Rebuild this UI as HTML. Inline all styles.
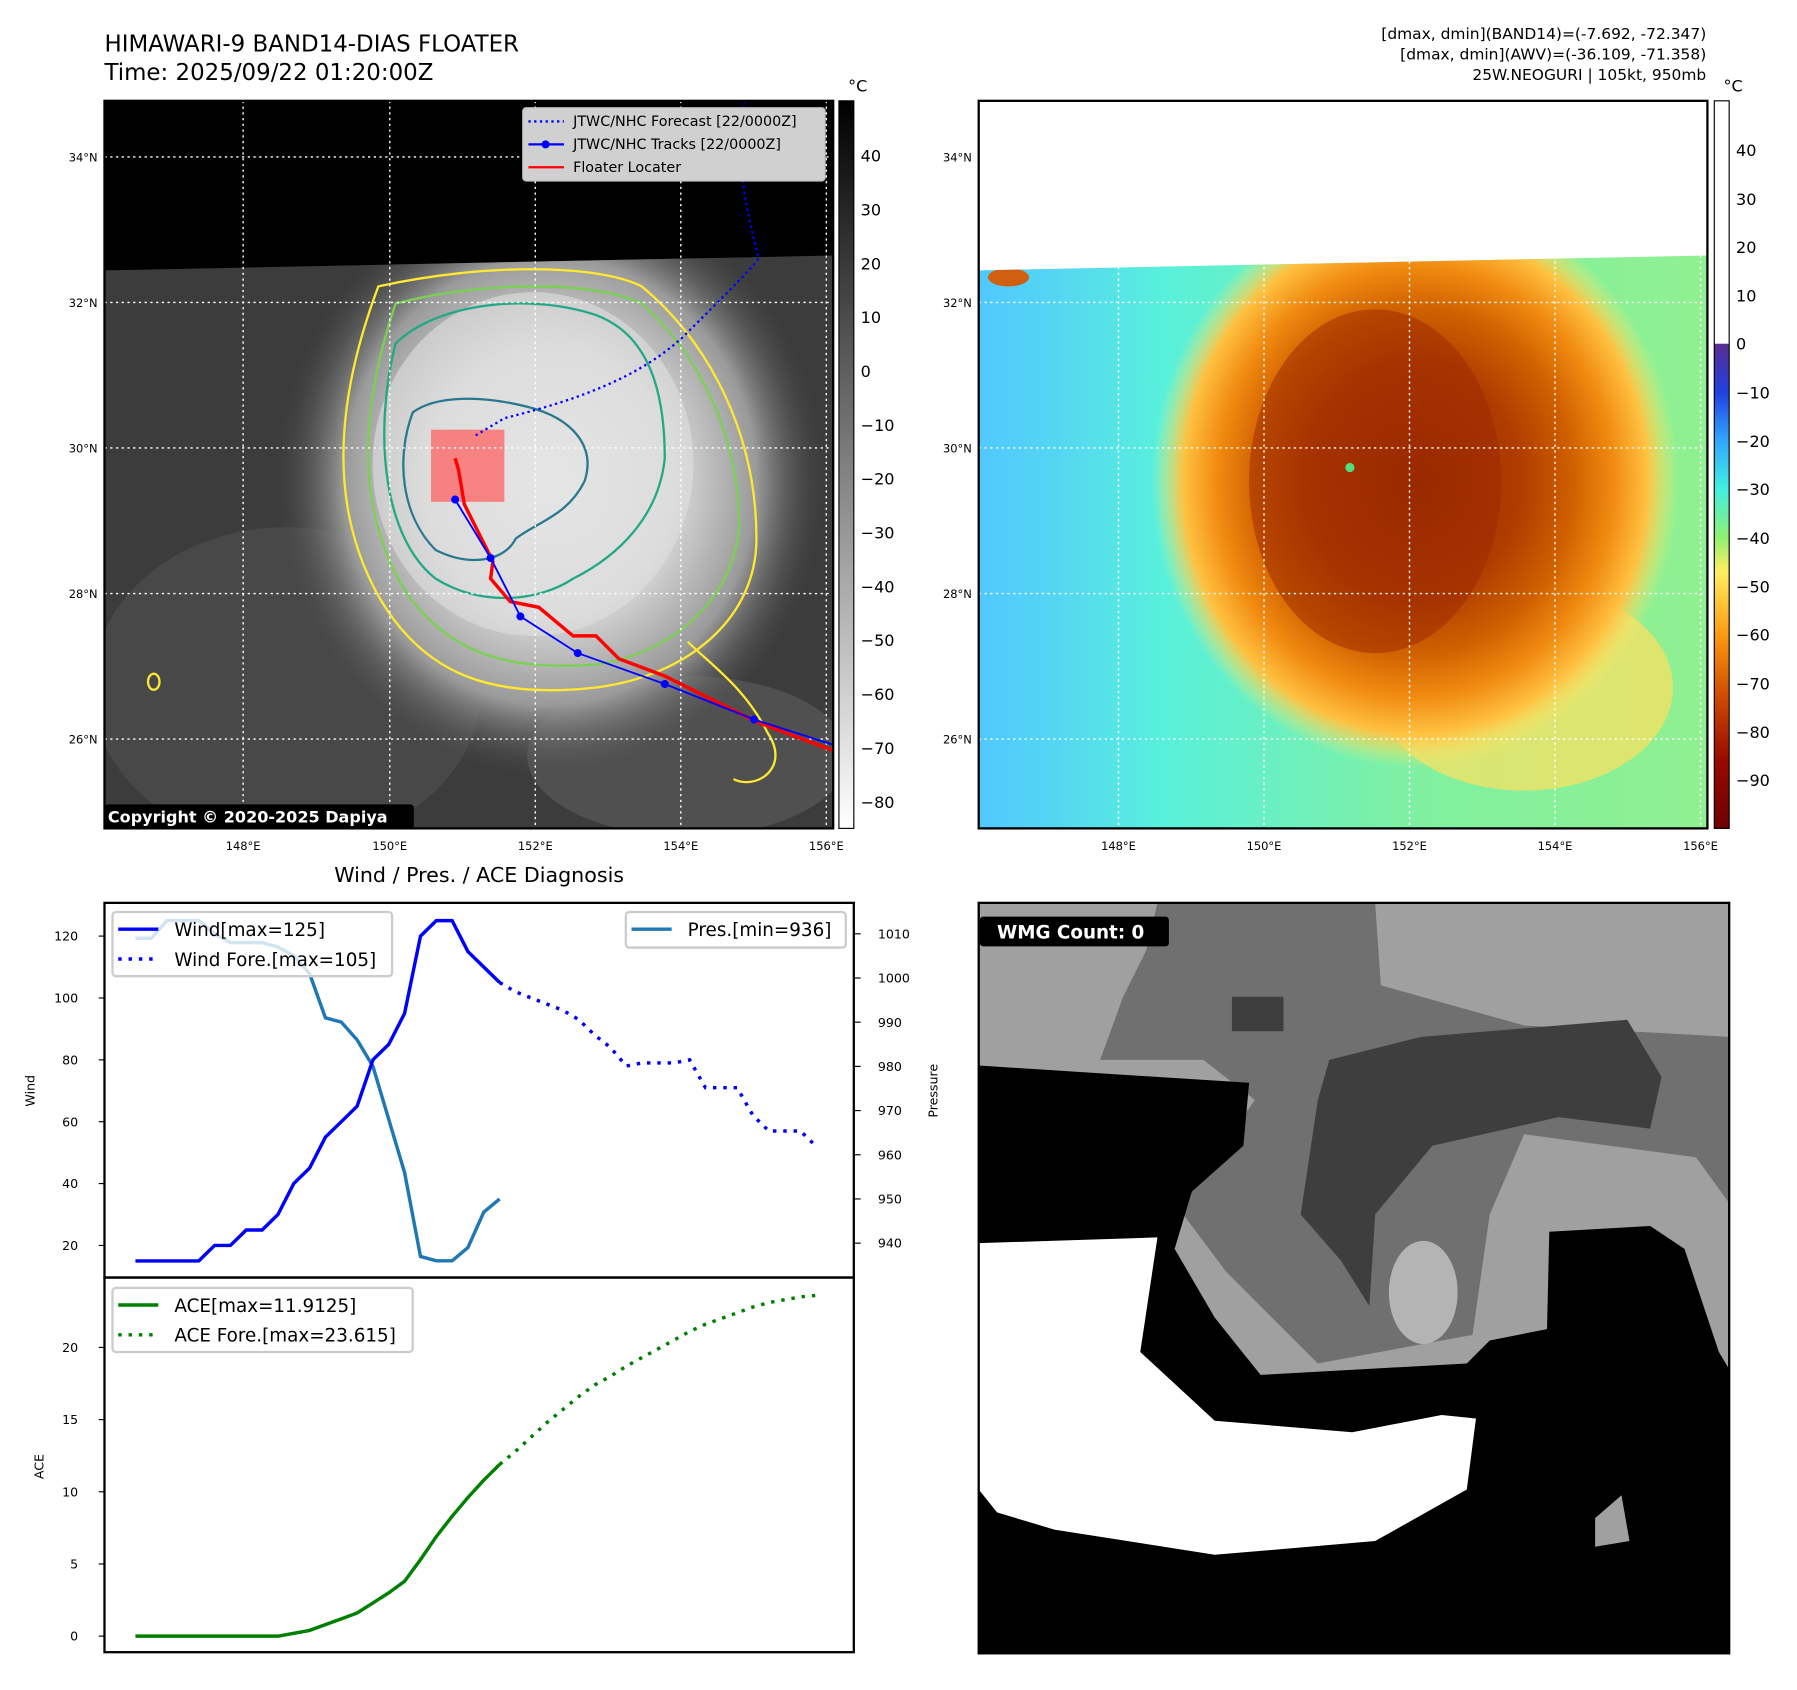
<!DOCTYPE html>
<html><head><meta charset="utf-8"><style>
html,body{margin:0;padding:0;background:#fff}
svg{display:block}
text{font-family:"DejaVu Sans","Liberation Sans",sans-serif}
</style></head><body>
<svg id="root" width="1797" height="1690" viewBox="0 0 1568 1475" xmlns="http://www.w3.org/2000/svg">
<defs>
<radialGradient id="cloud" cx="0.5" cy="0.5" r="0.5">
<stop offset="0" stop-color="#eeeeee"/><stop offset="0.45" stop-color="#d8d8d8"/><stop offset="0.75" stop-color="#9a9a9a"/><stop offset="1" stop-color="#4a4a4a" stop-opacity="0"/>
</radialGradient>
<radialGradient id="storm" cx="0.5" cy="0.5" r="0.5">
<stop offset="0" stop-color="#9a2a00"/><stop offset="0.4" stop-color="#b03c00"/><stop offset="0.6" stop-color="#d06000"/><stop offset="0.75" stop-color="#f08a10"/><stop offset="0.88" stop-color="#ffc040"/><stop offset="1" stop-color="#ffee70" stop-opacity="0"/>
</radialGradient>
<linearGradient id="seaGrad" x1="0" x2="1" y1="0" y2="0">
<stop offset="0" stop-color="#50c8ff"/><stop offset="0.12" stop-color="#55d8f0"/><stop offset="0.25" stop-color="#58f0dc"/><stop offset="0.6" stop-color="#80f0a0"/><stop offset="1" stop-color="#90f090"/>
</linearGradient>
<linearGradient id="grayBar" x1="0" x2="0" y1="0" y2="1">
<stop offset="0" stop-color="#000"/><stop offset="1" stop-color="#fff"/>
</linearGradient>
<linearGradient id="colBar" x1="0" x2="0" y1="0" y2="1">
<stop offset="0" stop-color="#5a2d91"/><stop offset="0.1" stop-color="#2040e0"/><stop offset="0.2" stop-color="#30a8ff"/><stop offset="0.3" stop-color="#40f0e0"/><stop offset="0.4" stop-color="#90f070"/><stop offset="0.47" stop-color="#ffef60"/><stop offset="0.6" stop-color="#ff9a10"/><stop offset="0.72" stop-color="#d05000"/><stop offset="0.86" stop-color="#980a00"/><stop offset="1" stop-color="#700000"/>
</linearGradient>
<clipPath id="clipL"><rect x="91" y="88" width="636" height="635"/></clipPath>
<clipPath id="clipLd"><polygon points="91,236 727,223 727,723 91,723"/></clipPath>
<clipPath id="clipR"><rect x="854" y="88" width="636" height="635"/></clipPath>
<clipPath id="clipRd"><polygon points="854,236 1490,223 1490,723 854,723"/></clipPath>
<clipPath id="clipB"><rect x="854" y="788" width="655" height="655"/></clipPath>
</defs>

<text x="91" y="45" font-size="20">HIMAWARI-9 BAND14-DIAS FLOATER</text>
<text x="91" y="70" font-size="20">Time: 2025/09/22 01:20:00Z</text>
<text x="1489" y="34" font-size="13.5" text-anchor="end">[dmax, dmin](BAND14)=(-7.692, -72.347)</text>
<text x="1489" y="52" font-size="13.5" text-anchor="end">[dmax, dmin](AWV)=(-36.109, -71.358)</text>
<text x="1489" y="70" font-size="13.5" text-anchor="end">25W.NEOGURI | 105kt, 950mb</text>

<!-- LEFT MAP -->
<g clip-path="url(#clipL)">
<rect x="91" y="88" width="636" height="635" fill="#000"/>
<g clip-path="url(#clipLd)">
<rect x="91" y="88" width="636" height="635" fill="#3c3c3c"/>
<ellipse cx="250" cy="600" rx="170" ry="140" fill="#505050" opacity="0.6"/>
<ellipse cx="600" cy="660" rx="140" ry="70" fill="#585858" opacity="0.7"/>
<ellipse cx="480" cy="420" rx="240" ry="260" fill="url(#cloud)"/>
<ellipse cx="465" cy="405" rx="140" ry="150" fill="#e0e0e0" opacity="0.6"/>
</g>
<g fill="none" stroke-width="2">
<path d="M330,250 C300,330 280,430 330,520 C370,590 430,610 520,600 C600,590 660,540 660,470 C660,380 620,300 560,250 C520,230 420,230 330,250 Z" stroke="#ffe930"/>
<path d="M345,265 C320,340 305,430 350,510 C390,575 450,585 520,580 C590,570 640,520 645,460 C645,380 610,310 560,265 C520,245 420,245 345,265 Z" stroke="#7ad151"/>
<path d="M345,300 C325,380 335,470 380,505 C420,530 470,525 500,505 C540,485 575,450 580,400 C580,330 560,290 520,275 C460,255 380,265 345,300 Z" stroke="#22a884"/>
<path d="M360,360 C345,400 350,450 380,480 C410,495 440,490 450,470 C470,455 495,450 510,420 C520,390 500,365 460,355 C420,345 380,345 360,360 Z" stroke="#2a788e"/>
<path d="M600,560 C620,580 650,600 670,640 C690,670 660,690 640,680" stroke="#ffe930"/>
</g>
<ellipse cx="134" cy="595" rx="5" ry="7" fill="none" stroke="#ffe930" stroke-width="2"/>
<rect x="376" y="375" width="64" height="63" fill="#ff5a5a" opacity="0.7"/>
<g stroke="#fff" stroke-width="1.2" stroke-dasharray="2,3" fill="none">
<line x1="212" y1="88" x2="212" y2="723"/><line x1="340" y1="88" x2="340" y2="723"/><line x1="467" y1="88" x2="467" y2="723"/><line x1="594" y1="88" x2="594" y2="723"/><line x1="721" y1="88" x2="721" y2="723"/>
<line x1="91" y1="137" x2="727" y2="137"/><line x1="91" y1="264" x2="727" y2="264"/><line x1="91" y1="391" x2="727" y2="391"/><line x1="91" y1="518" x2="727" y2="518"/><line x1="91" y1="645" x2="727" y2="645"/>
</g>
<path d="M415,380 L440,365 C500,350 560,330 600,290 C640,250 660,230 662,225 C650,180 640,130 650,88" fill="none" stroke="#0000ff" stroke-width="2" stroke-dasharray="2,3"/>
<path d="M397,400 L400,410 L405,440 L430,490 L428,505 L445,525 L470,530 L500,555 L520,555 L540,575 L580,590 L620,610 L660,630 L727,655" fill="none" stroke="#ff0000" stroke-width="3"/>
<polyline points="397,436 428,487 454,538 504,570 580,597 658,628 727,650" fill="none" stroke="#0000ff" stroke-width="1.6"/>
<g fill="#0000ff"><circle cx="397" cy="436" r="3.5"/><circle cx="428" cy="487" r="3.5"/><circle cx="454" cy="538" r="3.5"/><circle cx="504" cy="570" r="3.5"/><circle cx="580" cy="597" r="3.5"/><circle cx="658" cy="628" r="3.5"/></g>
<rect x="91" y="702" width="270" height="21" rx="3" fill="#000"/>
<text x="94" y="718" font-size="14" font-weight="bold" fill="#fff">Copyright © 2020-2025 Dapiya</text>
<g>
<rect x="456" y="94" width="264" height="64" rx="3" fill="#d0d0d0" stroke="#bbb"/>
<line x1="461" y1="106" x2="492" y2="106" stroke="#00f" stroke-width="2" stroke-dasharray="2,3"/>
<text x="500" y="110" font-size="12.5">JTWC/NHC Forecast [22/0000Z]</text>
<line x1="461" y1="126" x2="492" y2="126" stroke="#00f" stroke-width="2"/><circle cx="476" cy="126" r="3.5" fill="#00f"/>
<text x="500" y="130" font-size="12.5">JTWC/NHC Tracks [22/0000Z]</text>
<line x1="461" y1="146" x2="492" y2="146" stroke="#f00" stroke-width="2"/>
<text x="500" y="150" font-size="12.5">Floater Locater</text>
</g>
</g>
<rect x="91" y="88" width="636" height="635" fill="none" stroke="#000" stroke-width="2"/>
<g font-size="10" text-anchor="end">
<text x="85" y="141">34°N</text><text x="85" y="268">32°N</text><text x="85" y="395">30°N</text><text x="85" y="522">28°N</text><text x="85" y="649">26°N</text>
</g>
<g font-size="10" text-anchor="middle">
<text x="212" y="742">148°E</text><text x="340" y="742">150°E</text><text x="467" y="742">152°E</text><text x="594" y="742">154°E</text><text x="721" y="742">156°E</text>
</g>
<g>
<text x="740" y="80" font-size="14">°C</text>
<rect x="732" y="88" width="13" height="635" fill="url(#grayBar)" stroke="#000" stroke-width="1"/>
<g font-size="14">
<text x="751" y="141">40</text><text x="751" y="188">30</text><text x="751" y="235">20</text><text x="751" y="282">10</text><text x="751" y="329">0</text><text x="751" y="376">−10</text><text x="751" y="423">−20</text><text x="751" y="470">−30</text><text x="751" y="517">−40</text><text x="751" y="564">−50</text><text x="751" y="611">−60</text><text x="751" y="658">−70</text><text x="751" y="705">−80</text>
</g></g>

<!-- RIGHT MAP -->
<g clip-path="url(#clipR)">
<rect x="854" y="88" width="636" height="635" fill="#fff"/>
<g clip-path="url(#clipRd)">
<rect x="854" y="88" width="636" height="635" fill="url(#seaGrad)"/>
<ellipse cx="1330" cy="600" rx="130" ry="90" fill="#ffe060" opacity="0.7"/>
<ellipse cx="1235" cy="420" rx="230" ry="250" fill="url(#storm)"/>
<ellipse cx="1200" cy="420" rx="110" ry="150" fill="#9a2800" opacity="0.5"/>
<ellipse cx="880" cy="242" rx="18" ry="8" fill="#d06010"/>
<circle cx="1178" cy="408" r="4" fill="#50e080"/>
</g>
<g stroke="#fff" stroke-width="1.2" stroke-dasharray="2,3" fill="none">
<line x1="976" y1="88" x2="976" y2="723"/><line x1="1103" y1="88" x2="1103" y2="723"/><line x1="1230" y1="88" x2="1230" y2="723"/><line x1="1357" y1="88" x2="1357" y2="723"/><line x1="1484" y1="88" x2="1484" y2="723"/>
<line x1="854" y1="137" x2="1490" y2="137"/><line x1="854" y1="264" x2="1490" y2="264"/><line x1="854" y1="391" x2="1490" y2="391"/><line x1="854" y1="518" x2="1490" y2="518"/><line x1="854" y1="645" x2="1490" y2="645"/>
</g>
</g>
<rect x="854" y="88" width="636" height="635" fill="none" stroke="#000" stroke-width="2"/>
<g font-size="10" text-anchor="end">
<text x="848" y="141">34°N</text><text x="848" y="268">32°N</text><text x="848" y="395">30°N</text><text x="848" y="522">28°N</text><text x="848" y="649">26°N</text>
</g>
<g font-size="10" text-anchor="middle">
<text x="976" y="742">148°E</text><text x="1103" y="742">150°E</text><text x="1230" y="742">152°E</text><text x="1357" y="742">154°E</text><text x="1484" y="742">156°E</text>
</g>
<g>
<text x="1504" y="80" font-size="14">°C</text>
<rect x="1496" y="88" width="13" height="212" fill="#fff"/>
<rect x="1496" y="300" width="13" height="423" fill="url(#colBar)"/>
<rect x="1496" y="88" width="13" height="635" fill="none" stroke="#000" stroke-width="1"/>
<g font-size="14">
<text x="1515" y="136">40</text><text x="1515" y="179">30</text><text x="1515" y="221">20</text><text x="1515" y="263">10</text><text x="1515" y="305">0</text><text x="1515" y="348">−10</text><text x="1515" y="390">−20</text><text x="1515" y="432">−30</text><text x="1515" y="475">−40</text><text x="1515" y="517">−50</text><text x="1515" y="559">−60</text><text x="1515" y="602">−70</text><text x="1515" y="644">−80</text><text x="1515" y="686">−90</text>
</g></g>

<!-- BOTTOM RIGHT -->
<g clip-path="url(#clipB)">
<rect x="854" y="788" width="655" height="655" fill="#a0a0a0"/>
<polygon points="1010,788 1200,788 1205,860 1330,895 1509,905 1509,1050 1480,1010 1330,990 1300,1060 1285,1165 1150,1190 1070,1110 1025,1050 1060,1010 1095,960 1050,925 960,925 980,870 1000,830" fill="#707070"/>
<polygon points="1160,925 1240,905 1420,890 1450,940 1440,985 1360,975 1250,1000 1200,1060 1195,1140 1170,1100 1135,1060 1150,960" fill="#3e3e3e"/>
<rect x="1075" y="870" width="45" height="30" fill="#3e3e3e"/>
<polygon points="854,930 1090,945 1085,1000 1040,1040 1025,1090 1060,1150 1100,1200 1280,1190 1300,1170 1350,1160 1352,1075 1440,1070 1470,1090 1500,1180 1509,1195 1509,1443 854,1443" fill="#000"/>
<polygon points="854,1085 1010,1080 995,1180 1060,1240 1180,1250 1258,1235 1288,1238 1280,1300 1200,1345 1060,1357 920,1335 870,1320 854,1300" fill="#fff"/>
<ellipse cx="1242" cy="1128" rx="30" ry="45" fill="#b4b4b4"/>
<polygon points="1392,1325 1415,1305 1422,1345 1392,1350" fill="#a0a0a0"/>
<rect x="855" y="800" width="165" height="26" rx="3" fill="#000"/>
<text x="870" y="819" font-size="16" font-weight="bold" fill="#fff">WMG Count: 0</text>
</g>
<rect x="854" y="788" width="655" height="655" fill="none" stroke="#000" stroke-width="2"/>

<!-- CHARTS -->
<text x="418" y="770" font-size="18" text-anchor="middle">Wind / Pres. / ACE Diagnosis</text>
<g id="charts"></g>
</svg>
<script>
const windObs = [15,15,15,15,15,20,20,25,25,30,40,45,55,60,65,80,85,95,120,125,125,115,110,105];
const windFore = [105,102,100,98,96,93,88,84,78,79,79,79,80,71,71,71,62,57,57,57,52];
const presObs = [1009,1009,1013,1013,1013,1010,1008,1008,1008,1007,1005,1001,991,990,986,980,968,956,937,936,936,939,947,950];
const aceObs = [0,0,0,0,0,0,0,0,0,0,0.2,0.4,0.8,1.2,1.6,2.3,3.0,3.8,5.3,6.9,8.3,9.6,10.8,11.9];
const aceFore = [11.9,12.8,13.8,14.8,15.7,16.6,17.4,18.0,18.7,19.3,19.9,20.5,21.1,21.6,22.0,22.4,22.8,23.1,23.3,23.5,23.6];
const windTicks = [20,40,60,80,100,120];
const presTicks = [940,950,960,970,980,990,1000,1010];
const aceTicks = [0,5,10,15,20];

const NS='http://www.w3.org/2000/svg';
const g=document.getElementById('charts');
function mk(tag,attrs,parent){const e=document.createElementNS(NS,tag);for(const k in attrs)e.setAttribute(k,attrs[k]);(parent||g).appendChild(e);return e;}
const xOf=i=>118+i*13.82;
const yWind=v=>1087-(v-20)*2.7;
const yPres=v=>1085-(v-940)*3.857;
const yAce=v=>1428-v*12.6;
const nObs=windObs.length;
function pts(arr,off,yf){return arr.map((v,i)=>xOf(i+off).toFixed(1)+','+yf(v).toFixed(1)).join(' ');}

const pL=mk('polyline',{points:pts(presObs,0,yPres),fill:'none',stroke:'#1f77b4','stroke-width':3});


const wL=mk('polyline',{points:pts(windObs,0,yWind),fill:'none',stroke:'#0000ff','stroke-width':3});


const wF=mk('polyline',{points:pts(windFore,nObs-1,yWind),fill:'none',stroke:'#0000ff','stroke-width':3,'stroke-dasharray':'3,6'});


const aL=mk('polyline',{points:pts(aceObs,0,yAce),fill:'none',stroke:'#008000','stroke-width':3});


const aF=mk('polyline',{points:pts(aceFore,nObs-1,yAce),fill:'none',stroke:'#008000','stroke-width':3,'stroke-dasharray':'3,6'});



const f1=mk('rect',{x:91,y:788,width:654,height:327,fill:'none',stroke:'#000','stroke-width':2});


const f2=mk('rect',{x:91,y:1115,width:654,height:327,fill:'none',stroke:'#000','stroke-width':2});



windTicks.forEach(v=>{const y=yWind(v);mk('line',{x1:86,x2:91,y1:y,y2:y,stroke:'#000'});
 const t=mk('text',{x:68,y:y+4,'font-size':11,'text-anchor':'end'});t.textContent=v;
 
 });
presTicks.forEach(v=>{const y=yPres(v);mk('line',{x1:745,x2:751,y1:y,y2:y,stroke:'#000'});
 const t=mk('text',{x:766,y:y+4,'font-size':11});t.textContent=v;
 
 });
aceTicks.forEach(v=>{const y=yAce(v);mk('line',{x1:86,x2:91,y1:y,y2:y,stroke:'#000'});
 const t=mk('text',{x:68,y:y+4,'font-size':11,'text-anchor':'end'});t.textContent=v;
 
 });

function label(txt,x,y,name){const t=mk('text',{x:x,y:y,'font-size':11,'text-anchor':'middle',transform:`rotate(-90 ${x} ${y})`});t.textContent=txt;
 
 }
label('Wind',30,952,'wind-axis-title');
label('Pressure',818,952,'pressure-axis-title');
label('ACE',38,1280,'ace-axis-title');

function legend(x,y,w,h,items,name){const lg=mk('g',{});
 
 
 mk('rect',{x:x,y:y,width:w,height:h,rx:3,fill:'#fff','fill-opacity':0.8,stroke:'#ccc','stroke-width':2},lg);
 items.forEach((it,i)=>{const yy=y+15+i*26;
  const a={x1:x+5,x2:x+40,y1:yy,y2:yy,stroke:it.c,'stroke-width':3};if(it.d)a['stroke-dasharray']='3,6';mk('line',a,lg);
  const t=mk('text',{x:x+54,y:yy+6,'font-size':16},lg);t.textContent=it.t;});}
legend(98,796,244,56,[{c:'#0000ff',t:'Wind[max=125]'},{c:'#0000ff',t:'Wind Fore.[max=105]',d:1}],'wind-legend');
legend(546,796,192,31,[{c:'#1f77b4',t:'Pres.[min=936]'}],'pressure-legend');
legend(98,1124,262,56,[{c:'#008000',t:'ACE[max=11.9125]'},{c:'#008000',t:'ACE Fore.[max=23.615]',d:1}],'ace-legend');
</script>
</body></html>
